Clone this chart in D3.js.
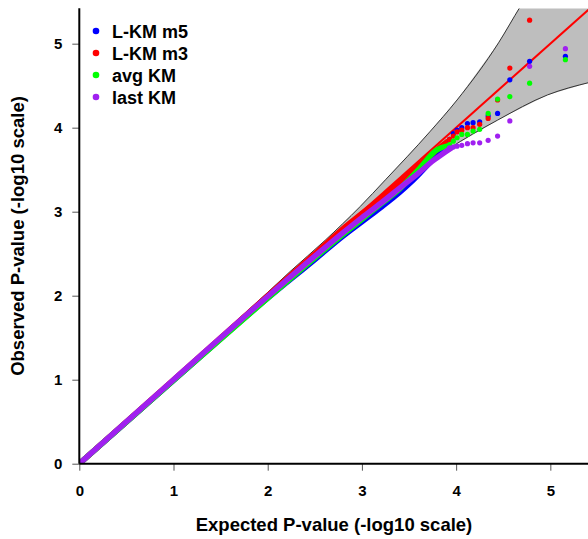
<!DOCTYPE html>
<html>
<head>
<meta charset="utf-8">
<script src="https://cdn.jsdelivr.net/npm/d3@7"></script>
<style>
  body { margin: 0; background: #fff; }
  text { font-family: "Liberation Sans", Arial, sans-serif; font-weight: bold; }
</style>
</head>
<body>
<div id="chart"></div>
<script>
// expected -log10 p for the top ranks
const tailX = [5.16, 4.78, 4.57, 4.44, 4.34, 4.25, 4.18, 4.12, 4.06, 4.01, 3.97, 3.93];

// observed values at those ranks, per series (null = not shown)
const m5Tail   = [4.85, 4.79, 4.57, 4.17, 4.14, 4.07, 4.06, 4.05, 4.00, 3.97, 3.93, 3.86];
const m3Tail   = [null, 5.28, 4.71, 4.33, 4.11, 4.04, 4.00, 4.00, 3.97, 3.95, 3.90, 3.86];
const avgTail  = [4.81, 4.53, 4.37, 4.34, 4.17, 3.98, 3.96, 3.92, 3.92, 3.88, 3.84, 3.80];
const lastTail = [4.94, 4.73, 4.08, 3.90, 3.85, 3.82, 3.82, 3.81, 3.79, 3.78, 3.77, 3.76];

// dense body of each series, [expected, observed]
const m5Body   = [[0,0],[1,0.99],[2,1.97],[2.5,2.43],[2.8,2.71],[3.0,2.88],[3.2,3.05],[3.4,3.23],[3.5,3.33],[3.6,3.44],[3.7,3.56],[3.8,3.68],[3.88,3.80]];
const m3Body   = [[0,0],[1,1],[2,2.0],[2.5,2.5],[2.8,2.8],[3.0,2.98],[3.2,3.16],[3.4,3.35],[3.6,3.55],[3.8,3.74],[3.9,3.83]];
const avgBody  = [[0,0],[1,0.99],[2,1.97],[2.5,2.45],[2.8,2.73],[3.0,2.91],[3.2,3.09],[3.4,3.27],[3.6,3.50],[3.8,3.74],[3.9,3.78]];
const lastBody = [[0,0],[1,1],[2,1.99],[2.5,2.47],[2.8,2.75],[3.0,2.93],[3.2,3.10],[3.4,3.28],[3.6,3.46],[3.76,3.61],[3.87,3.70],[3.95,3.76]];

// 95% band edges, [expected, bound]
const bandHi = [[0,0],[1,1.01],[1.5,1.53],[2,2.04],[2.24,2.29],[2.61,2.66],[2.98,3.06],[3.25,3.38],[3.72,3.95],[4.01,4.33],[4.45,5.01],[4.68,5.44],[5.0,6.0],[5.42,6.8]];
const bandLo = [[0,0],[1,0.99],[2,1.96],[2.5,2.44],[3.0,2.92],[3.55,3.45],[3.91,3.74],[4.44,4.09],[4.97,4.39],[5.42,4.54]];

const seriesNames = ['L-KM m5', 'L-KM m3', 'avg KM', 'last KM'];
const seriesColors = ['#0000FF', '#FF0000', '#00FF00', '#A020F0'];
const xTicks = [0, 1, 2, 3, 4, 5];
const yTicks = [0, 1, 2, 3, 4, 5];

const W = 588, H = 539;
const svg = d3.select('#chart').append('svg')
  .attr('width', W).attr('height', H);

const x = d3.scaleLinear().domain([0, 5.42]).range([79.3, 589.9]);
const y = d3.scaleLinear().domain([0, 5.42]).range([463.7, 8.4]);

svg.append('clipPath').attr('id', 'plot')
  .append('rect').attr('x', 79.3).attr('y', 8.4)
  .attr('width', W - 79.3).attr('height', 463.7 - 8.4);

const g = svg.append('g').attr('clip-path', 'url(#plot)');
const line = d3.line().x(d => x(d[0])).y(d => y(d[1])).curve(d3.curveMonotoneX);

// confidence band
const poly = bandHi.concat(bandLo.slice().reverse());
g.append('path')
  .attr('d', d3.line().x(d => x(d[0])).y(d => y(d[1]))(poly))
  .attr('fill', '#BEBEBE');
g.append('path').attr('d', line(bandHi)).attr('fill', 'none').attr('stroke', '#333').attr('stroke-width', 1);
g.append('path').attr('d', line(bandLo)).attr('fill', 'none').attr('stroke', '#333').attr('stroke-width', 1);

// y = x reference
g.append('line')
  .attr('x1', x(0)).attr('y1', y(0)).attr('x2', x(5.42)).attr('y2', y(5.42))
  .attr('stroke', '#FF0000').attr('stroke-width', 2);

const bodies = [m5Body, m3Body, avgBody, lastBody];
const tails = [m5Tail, m3Tail, avgTail, lastTail];

bodies.forEach((b, i) => {
  g.append('path').attr('d', line(b))
    .attr('fill', 'none').attr('stroke', seriesColors[i])
    .attr('stroke-width', 5.5).attr('stroke-linecap', 'round');
});

tails.forEach((t, i) => {
  g.selectAll(null)
    .data(t.map((v, k) => [tailX[k], v]).filter(d => d[1] !== null))
    .enter().append('circle')
    .attr('cx', d => x(d[0])).attr('cy', d => y(d[1]))
    .attr('r', 2.6).attr('fill', seriesColors[i]);
});

// axes
const xAxis = svg.append('g').attr('transform', `translate(0, ${y(0)})`)
  .call(d3.axisBottom(x).tickValues(xTicks).tickFormat(d3.format('d')).tickSize(7).tickPadding(15));
const yAxis = svg.append('g').attr('transform', `translate(${x(0)}, 0)`)
  .call(d3.axisLeft(y).tickValues(yTicks).tickFormat(d3.format('d')).tickSize(7).tickPadding(10));

[xAxis, yAxis].forEach(a => {
  a.select('.domain').remove();
  a.selectAll('.tick line').attr('stroke', '#555');
  a.selectAll('.tick text').attr('font-size', 15).attr('fill', '#000')
    .style('font-family', '"Liberation Sans", Arial, sans-serif').style('font-weight', 'bold');
});

svg.append('line').attr('x1', x(0)).attr('x2', W).attr('y1', y(0)).attr('y2', y(0))
  .attr('stroke', '#000').attr('stroke-width', 2);
svg.append('line').attr('x1', x(0)).attr('x2', x(0)).attr('y1', y(0)).attr('y2', 8.3)
  .attr('stroke', '#000').attr('stroke-width', 2);

// axis titles
svg.append('text').attr('x', 334).attr('y', 531)
  .attr('text-anchor', 'middle').attr('font-size', 18.5)
  .text('Expected P-value (-log10 scale)');
svg.append('text')
  .attr('transform', `translate(24, 236) rotate(-90)`)
  .attr('text-anchor', 'middle').attr('font-size', 18.5)
  .text('Observed P-value (-log10 scale)');

// legend
const leg = svg.append('g');
seriesNames.forEach((n, i) => {
  const ly = 31 + i * 22;
  leg.append('circle').attr('cx', 96).attr('cy', ly).attr('r', 3.3).attr('fill', seriesColors[i]);
  leg.append('text').attr('x', 112).attr('y', ly + 6.5).attr('font-size', 18).text(n);
});
</script>
</body>
</html>
